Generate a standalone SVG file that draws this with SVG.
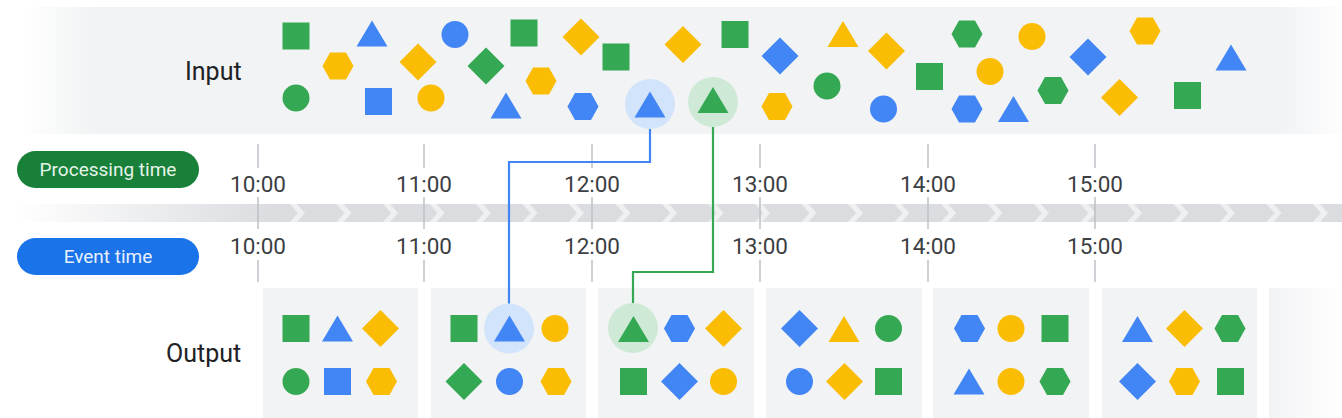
<svg xmlns="http://www.w3.org/2000/svg" xmlns:xlink="http://www.w3.org/1999/xlink" width="1342" height="418" viewBox="0 0 1342 418">
<style>
.g{fill:#34a853}.b{fill:#4285f4}.y{fill:#fbbc04}
.hlb{fill:#d2e3fc}.hlg{fill:#ceead6}
.lbl{font-family:Roboto,"Liberation Sans",Arial,sans-serif;font-size:25px;fill:#202124}
.tm{font-family:Roboto,"Liberation Sans",Arial,sans-serif;font-size:22.5px;fill:#3c4043;text-anchor:middle}
.pill{font-family:Roboto,"Liberation Sans",Arial,sans-serif;font-size:19px;text-anchor:middle}
.tick{stroke:#bdc1c6;stroke-width:1.5}
.box{fill:#f1f3f4}
.conn{fill:none;stroke-width:2.2}
</style>
<defs>
<rect id="sq" x="-13.5" y="-13.5" width="27" height="27"/>
<circle id="ci" r="13.5"/>
<polygon id="tri" points="0,-13 15.5,13 -15.5,13"/>
<polygon id="di" points="0,-18.5 18.5,0 0,18.5 -18.5,0"/>
<polygon id="hx" points="-15.5,0 -8,-13.5 8,-13.5 15.5,0 8,13.5 -8,13.5"/>
<linearGradient id="inBand" gradientUnits="userSpaceOnUse" x1="0" y1="0" x2="1342" y2="0">
<stop offset="0.015" stop-color="#ffffff"/>
<stop offset="0.07" stop-color="#f1f3f4"/>
<stop offset="0.955" stop-color="#f1f3f4"/>
<stop offset="1" stop-color="#fdfdfe"/>
</linearGradient>
<linearGradient id="tBand" gradientUnits="userSpaceOnUse" x1="15" y1="0" x2="275" y2="0">
<stop offset="0" stop-color="#ffffff"/>
<stop offset="1" stop-color="#dadce0"/>
</linearGradient>
<linearGradient id="lastBox" gradientUnits="userSpaceOnUse" x1="1269" y1="0" x2="1342" y2="0">
<stop offset="0" stop-color="#f2f3f5"/>
<stop offset="1" stop-color="#ffffff"/>
</linearGradient>
<pattern id="chev" patternUnits="userSpaceOnUse" x="290" y="204" width="46.5" height="18">
<polygon points="0,0 7,0 15,9 7,18 0,18 8,9" fill="#eef0f2"/>
</pattern>
</defs>

<g id="input">
<rect x="0" y="7" width="1342" height="127" fill="url(#inBand)"/>
<text class="lbl" x="185" y="80">Input</text>
<use href="#sq" x="296" y="36" class="g"/>
<use href="#tri" x="372" y="33.5" class="b"/>
<use href="#hx" x="338" y="66" class="y"/>
<use href="#di" x="418" y="62" class="y"/>
<use href="#ci" x="296" y="98" class="g"/>
<use href="#sq" x="378.5" y="101.5" class="b"/>
<use href="#ci" x="431" y="98" class="y"/>
<use href="#ci" x="455" y="34.5" class="b"/>
<use href="#sq" x="524" y="33" class="g"/>
<use href="#di" x="581" y="37" class="y"/>
<use href="#di" x="486" y="66" class="g"/>
<use href="#sq" x="616" y="57" class="g"/>
<use href="#di" x="683" y="44.5" class="y"/>
<use href="#sq" x="735" y="34.5" class="g"/>
<use href="#di" x="780" y="56" class="b"/>
<use href="#tri" x="843" y="34" class="y"/>
<use href="#di" x="886.5" y="51" class="y"/>
<use href="#hx" x="541" y="81" class="y"/>
<use href="#tri" x="506" y="105.5" class="b"/>
<use href="#hx" x="583" y="106.5" class="b"/>
<use href="#hx" x="777" y="106.5" class="y"/>
<use href="#ci" x="827" y="86" class="g"/>
<use href="#ci" x="883.5" y="109" class="b"/>
<use href="#hx" x="967" y="34" class="g"/>
<use href="#ci" x="1032" y="36.5" class="y"/>
<use href="#hx" x="1145" y="31" class="y"/>
<use href="#sq" x="929.5" y="76.5" class="g"/>
<use href="#ci" x="990" y="71.5" class="y"/>
<use href="#di" x="1088" y="57" class="b"/>
<use href="#tri" x="1231" y="57.5" class="b"/>
<use href="#hx" x="967" y="109" class="b"/>
<use href="#tri" x="1013.5" y="109" class="b"/>
<use href="#hx" x="1053" y="90.5" class="g"/>
<use href="#di" x="1119.5" y="97.5" class="y"/>
<use href="#sq" x="1187.5" y="95.5" class="g"/>
</g>

<g id="input-event-blue">
<circle cx="650" cy="104" r="25" class="hlb"/>
<use href="#tri" x="650" y="104.5" class="b"/>
</g>
<g id="input-event-green">
<circle cx="713" cy="102" r="25" class="hlg"/>
<use href="#tri" x="713" y="100" class="g"/>
</g>

<g id="timeline">
<rect x="15" y="204" width="1327" height="18" fill="url(#tBand)"/>
<rect x="285" y="204" width="1057" height="18" fill="url(#chev)"/>
<g class="ticks">
<path class="tick" d="M258,144V168M258,197V229M258,260V282 M424,144V168M424,197V229M424,260V282 M592,144V168M592,197V229M592,260V282 M760,144V168M760,197V229M760,260V282 M928,144V168M928,197V229M928,260V282 M1095,144V168M1095,197V229M1095,260V282"/>
</g>
<text class="tm" x="258" y="192">10:00</text>
<text class="tm" x="424" y="192">11:00</text>
<text class="tm" x="592" y="192">12:00</text>
<text class="tm" x="760" y="192">13:00</text>
<text class="tm" x="928" y="192">14:00</text>
<text class="tm" x="1095" y="192">15:00</text>
<text class="tm" x="258" y="254">10:00</text>
<text class="tm" x="424" y="254">11:00</text>
<text class="tm" x="592" y="254">12:00</text>
<text class="tm" x="760" y="254">13:00</text>
<text class="tm" x="928" y="254">14:00</text>
<text class="tm" x="1095" y="254">15:00</text>
</g>

<g id="processing-time">
<rect x="17" y="151" width="182" height="37" rx="18.5" fill="#188038"/>
<text class="pill" x="108" y="176" fill="#e6f4ea">Processing time</text>
</g>
<g id="event-time">
<rect x="17" y="238" width="182" height="37" rx="18.5" fill="#1a73e8"/>
<text class="pill" x="108" y="263" fill="#e8f0fe">Event time</text>
</g>

<g id="output-label">
<text class="lbl" x="166" y="362">Output</text>
</g>

<g id="window-1">
<rect class="box" x="263" y="288" width="155" height="130"/>
<use href="#sq" x="296" y="328.5" class="g"/>
<use href="#tri" x="337.5" y="328.5" class="b"/>
<use href="#di" x="380.5" y="328.5" class="y"/>
<use href="#ci" x="296" y="381.5" class="g"/>
<use href="#sq" x="337.5" y="381.5" class="b"/>
<use href="#hx" x="381.5" y="381.5" class="y"/>
</g>
<g id="window-2">
<rect class="box" x="431" y="288" width="155" height="130"/>
<use href="#sq" x="464" y="328.5" class="g"/>
<circle cx="509" cy="328.5" r="25" class="hlb"/>
<use href="#tri" x="509.5" y="328.5" class="b"/>
<use href="#ci" x="555" y="328.5" class="y"/>
<use href="#di" x="464" y="381.5" class="g"/>
<use href="#ci" x="509.5" y="381.5" class="b"/>
<use href="#hx" x="556" y="381.5" class="y"/>
</g>
<g id="window-3">
<rect class="box" x="598" y="288" width="156" height="130"/>
<circle cx="633" cy="328" r="25" class="hlg"/>
<use href="#tri" x="633.5" y="329" class="g"/>
<use href="#hx" x="679.5" y="328.5" class="b"/>
<use href="#di" x="723.5" y="328.5" class="y"/>
<use href="#sq" x="633.5" y="381.5" class="g"/>
<use href="#di" x="679.5" y="381.5" class="b"/>
<use href="#ci" x="723.5" y="381.5" class="y"/>
</g>
<g id="window-4">
<rect class="box" x="766" y="288" width="156" height="130"/>
<use href="#di" x="799.5" y="328.5" class="b"/>
<use href="#tri" x="844" y="329" class="y"/>
<use href="#ci" x="888.5" y="328.5" class="g"/>
<use href="#ci" x="799.5" y="381.5" class="b"/>
<use href="#di" x="844.5" y="381.5" class="y"/>
<use href="#sq" x="888.5" y="381.5" class="g"/>
</g>
<g id="window-5">
<rect class="box" x="933" y="288" width="156" height="130"/>
<use href="#hx" x="969.5" y="328.5" class="b"/>
<use href="#ci" x="1011" y="328.5" class="y"/>
<use href="#sq" x="1055" y="328.5" class="g"/>
<use href="#tri" x="969" y="381.5" class="b"/>
<use href="#ci" x="1011" y="381.5" class="y"/>
<use href="#hx" x="1055" y="381.5" class="g"/>
</g>
<g id="window-6">
<rect class="box" x="1102" y="288" width="155" height="130"/>
<use href="#tri" x="1137.5" y="329" class="b"/>
<use href="#di" x="1184.5" y="328.5" class="y"/>
<use href="#hx" x="1230" y="328.5" class="g"/>
<use href="#di" x="1137.5" y="381.5" class="b"/>
<use href="#hx" x="1184.5" y="381.5" class="y"/>
<use href="#sq" x="1230.5" y="381.5" class="g"/>
</g>
<g id="window-7">
<rect x="1269" y="288" width="73" height="130" fill="url(#lastBox)"/>
</g>

<g id="connectors">
<path class="conn" stroke="#4285f4" d="M650,129V162H509V303.5"/>
<path class="conn" stroke="#34a853" d="M713,127V272H633V303"/>
</g>
</svg>
